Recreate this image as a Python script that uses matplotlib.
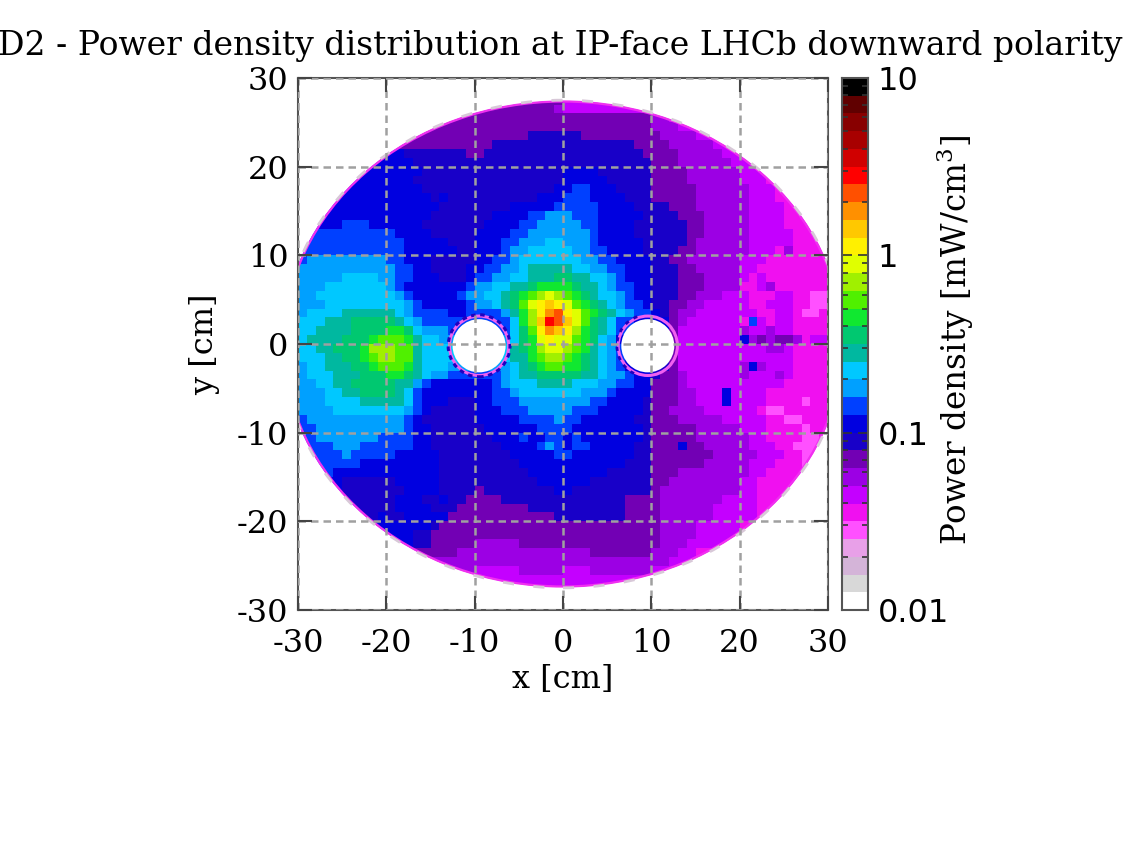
import numpy as np
import matplotlib
matplotlib.use('Agg')
import matplotlib.pyplot as plt
from matplotlib.colors import ListedColormap, BoundaryNorm
from matplotlib.patches import Ellipse, Circle, Arc

# colour steps of the palette, one per tenth of a decade, from 0.01 up to 10
level_colors = ['#ffffff', '#d8d8d8', '#d4b4d8', '#e8a0e8', '#ff50ff', '#f010f0',
                '#c400ff', '#9c00e4', '#7200b4', '#1800c8', '#0000e0', '#0040ff',
                '#00a0ff', '#00c8ff', '#00b8a0', '#00c870', '#10e830', '#50f000',
                '#a0f000', '#e0ff00', '#fff000', '#ffc800', '#ff9000', '#ff5000',
                '#ff0000', '#d00000', '#a80000', '#880000', '#600000', '#000000']
level_edges = np.logspace(-2, 1, 31)

# colour step per 1 cm cell, base 36, top row first
# columns come in groups of ten, x = -30 to 29
level_rows = [
    "8888888888 8888888888 8888888888 6666666666 6666666666 5555555555",
    "8888888888 8888888888 8888888887 6666666666 6666666666 5555555555",
    "8888888888 8888888888 8888888888 8888888888 7766666666 5555555555",
    "8888888888 8888888888 8888888888 8888888888 7776666666 5555555555",
    "8888888888 8888888888 8888889999 9988888888 8777766666 5555555555",
    "8888888888 8888888888 8899999999 9999999988 8877777666 6655555555",
    "aaaaaaaaaa aa99999998 8999999999 9999999998 8887777766 6655555555",
    "aaaaaaaaaa aaa9999999 9999999999 9999999999 8887777776 6655555555",
    "aaaaaaaaaa aaaa999999 9999999999 aaaa999999 8888777777 6665555555",
    "aaaaaaaaaa aaa9999999 9999999999 aaaaa99999 8888777777 6665555555",
    "aaaaaaaaaa aaaa999999 999999999a abbaaa9999 8888877777 7666555555",
    "aaaaaaaaaa aaaaa9a999 9999999aaa bbbaaaa999 8888877777 7666555555",
    "aaaaaaaaaa aaaaaa9999 9999aaaaab bbbbaaaa99 9988877777 7666655555",
    "aaaaaaaaaa aaaaa99999 99aaaabbcc cbbbaaaaa9 9998887777 7666655555",
    "aaaaabbbaa aaaa999999 9aaaabbccc ccbbaaaa99 9999887777 7666655555",
    "abbbbbbbbb baaaa99999 aaaabbcccc cccbaaaa99 9999887777 7666665555",
    "bbbbbbbbbb bbaaaaa999 aaabbcccdd cccbaaaaa9 9999877777 7666665555",
    "bbbbbbbbbb bbaaaaaa99 aaabccdddd dccbbaaaa9 9998877777 7666575555",
    "bccccccccc bbaaa99999 aabbcddddd ddccbbaaaa 9988777777 6665555555",
    "cccccccccc cbbaa9999a abbccdeeee eddccbbaaa 9998877777 6655555555",
    "cccccddddc cbbaaa999a bbccddeeef feeddcbaaa 9998887777 6565555555",
    "cccddddddd cbaaaaaaab ccddeefggg gfeedcbbaa 9998887777 5567555555",
    "ccdddddddd dcbaaaaabc cddefghiji hgfeddcbaa 9998877766 6555665544",
    "cccddddddd ddcbaaaaab ccdefhjklk jhgfedcbba 9988776666 6556665544",
    "cddddeeeee edcbbbbaab bbbcegikmn kjhgfedcbb a987766666 6655665445",
    "dddeeeffff fedcbbbbbb bbbbdgilon ljhfedbbaa aa87666666 5b65665555",
    "ddeeeeffff ggfdcccbbb bbbbdfhkml kigfedbbaa aa86666666 7667665555",
    "deeeefffgh hhgeddcccc ccccdfgjkj jhgfdcaaaa 9986666666 a787887566",
    "ddeefffgii ihhedddddd ddddefgijj ihgedcbaaa 9986666666 6667765555",
    "dddeeffghi ihhedddddd ddddeeghii hgfedcbaaa 9986666666 6666665555",
    "cddeeeffgh hhgedddccc ccccdefghh ggfedcbaaa 9986666666 7a76665555",
    "cdddeeefff ggfedccbbb bbbcdeefff ffeedccbaa 9887666666 7666765555",
    "ccddeeffff feecbaaaaa aabcdddeee edddccbbaa 8887666666 6666655555",
    "cccddeefff fedbaaaaaa aabbcddddd ddcccbaaaa 88877666a6 6665555555",
    "cccddddeee eedbaaa999 aabbbccccc cccbbaaaa9 88877666a6 6665555455",
    "ccccdddddd ddcba99999 aaabbbcccc cbbbaaaaa9 8877776666 6654455555",
    "bccccccccc ccba999999 aaaaabbbbc bbaaaaaa99 8887777766 6665544555",
    "bbcccccccc ccbaa99999 9aaaaaabbb baaaaaaaa9 8888877777 6665555455",
    "bbcccccccb bbbaa99999 99aaabaabb abaaaaaaa9 8888877777 7665555445",
    "bbbbcccbbb bbbaa99999 999aaaabcb abbaaaaa99 888a887777 7666554445",
    "bbbbbcbbbb baaaaa9999 9999aaaaab baaaaaaa99 8888888777 7766655445",
    "bbbbbbbaaa aaaaaa9999 99999aaaaa aaaaaaa999 8888887777 7666555445",
    "bbbbaaaaaa aaaaaa9999 999999aaaa aaaaa99999 8887777777 7665555444",
    "aaaaa99999 9aaaaa9999 9999999aaa aaa9999999 8877777777 6655555555",
    "aaaaa99999 99aaaa9999 899999999a a999999999 8777777777 6655555544",
    "aaaaa99999 9aaa99a998 8889999999 9999999888 8777777766 6655555544",
    "aaaaa99999 9aaaa99988 8888889999 9999999888 8777777666 6655555555",
    "999999999a 99aaaaa888 8888888889 9999999888 8777777666 6655555555",
    "aaaaaaaaaa aaaaa98888 8888888888 8888888888 8777766666 5555555555",
    "aaaaaaaaaa aaa9988888 8888888888 8888888888 8777766666 5555555555",
    "aaaaaaaaaa aaa9988888 7777788888 8888888888 8777666666 5555555555",
    "9999999999 8888888877 7777777777 7778888888 7776655555 5555555555",
    "8888888888 8888877777 7777777777 7777777777 7766655555 5555555555",
    "7777777777 7777777777 6666677777 6667777777 6666665555 5555555555",
    "7777777777 7777777777 6666666666 6666666666 6666665555 5555555555",
    "7777777777 7777777777 6666666666 6666666666 6666666666 5555555555",
]
x_edges = np.arange(-30, 31)
y_edges = np.arange(28, -29, -1)

ticks = [-30, -20, -10, 0, 10, 20, 30]
tick_labels = ['-30', '-20', '-10', '0', '10', '20', '30']
cbar_ticks = [0.01, 0.1, 1, 10]
cbar_labels = ['0.01', '0.1', '1', '10']

# decode the rows and put each cell at the middle of its colour step
levels = np.array([[int(c, 36) for c in row.replace(' ', '')] for row in level_rows])
density = np.sqrt(level_edges[levels] * level_edges[levels + 1])

cmap = ListedColormap(level_colors)
norm = BoundaryNorm(level_edges, cmap.N)

W, H = 1136, 849
fig = plt.figure(figsize=(W / 100, H / 100), dpi=100)
serif = 'DejaVu Serif'

ax = fig.add_axes([298 / W, 1 - 610 / H, 530 / W, 532 / H])
mesh = ax.pcolormesh(x_edges, y_edges, density, cmap=cmap, norm=norm, zorder=1)

# outline of the disc and the two beam pipe holes
outline = Ellipse((0, 0), 63.4, 54.9, transform=ax.transData, fc='none', ec='none')
ax.add_patch(outline)
mesh.set_clip_path(outline)

ax.add_patch(Ellipse((0, 0), 63.2, 54.7, fc='none', ec='#f030f0', lw=1.6, zorder=1.2))
ax.add_patch(Ellipse((0, 0), 63.5, 55.0, fc='none', ec='#d8c8d8', lw=2, ls=(0, (4, 7)), zorder=1.3))

for cx in [-9.5, 9.6]:
    ax.add_patch(Circle((cx, -0.2), 3.0, fc='white', ec='none', zorder=1.4))
    ax.add_patch(Circle((cx, -0.2), 3.35, fc='none', ec='#f060f0', lw=2.2, zorder=1.5))
ax.add_patch(Circle((-9.5, -0.2), 3.5, fc='none', ec='#2000c0', lw=2.2, ls=(0, (1.5, 1.5)), zorder=1.6))
ax.add_patch(Arc((9.6, -0.2), 7, 7, theta1=110, theta2=250, ec='#2000c0', lw=2, ls=(0, (1.5, 2)), zorder=1.6))

ax.set_xlim(-30, 30)
ax.set_ylim(-30, 30)
ax.set_xticks(ticks)
ax.set_xticklabels(tick_labels, family=serif, fontsize=23)
ax.set_yticks(ticks)
ax.set_yticklabels(tick_labels, family=serif, fontsize=23)
ax.tick_params(direction='in', length=10, width=1.5, color='#444444', top=True, right=True)
ax.tick_params(axis='x', pad=13)
ax.tick_params(axis='y', pad=7)
ax.set_axisbelow(False)
ax.grid(True, color='#a0a0a0', lw=1.8, ls=(0, (3, 2)))
for s in ax.spines.values():
    s.set_color('#555555')
    s.set_linewidth(1.5)
ax.set_xlabel('x [cm]', family=serif, fontsize=23, va='center')
ax.set_ylabel('y [cm]', family=serif, fontsize=23, va='center')
ax.xaxis.set_label_coords(0.5, -70 / 532)
ax.yaxis.set_label_coords(-93 / 530, 0.5)

# colour scale
cax = fig.add_axes([842 / W, 1 - 610 / H, 26 / W, 532 / H])
cax.pcolormesh([0, 1], level_edges, np.arange(30).reshape(-1, 1) + 0.0, cmap=cmap,
               norm=BoundaryNorm(np.arange(31), cmap.N))
cax.set_yscale('log')
cax.set_ylim(0.01, 10)
cax.set_xticks([])
cax.yaxis.tick_right()
cax.set_yticks(cbar_ticks)
cax.set_yticklabels(cbar_labels, fontsize=23)
cax.tick_params(which='major', direction='in', length=7, width=1.2, color='#333333', left=True, right=True, pad=7)
cax.tick_params(which='minor', direction='in', length=4, width=1.2, color='#333333', left=True, right=True)
for s in cax.spines.values():
    s.set_color('#555555')
    s.set_linewidth(1.5)

fig.text(955 / W, 1 - 340 / H, 'Power density [mW/cm$^3$]', family=serif, fontsize=23.5, rotation=90,
         ha='center', va='center', math_fontfamily='dejavuserif')
fig.text(1122 / W, 1 - 55 / H, 'D2 - Power density distribution at IP-face LHCb downward polarity',
         family=serif, fontsize=23.8, ha='right', va='baseline')

fig.savefig('out.png', dpi=100)
